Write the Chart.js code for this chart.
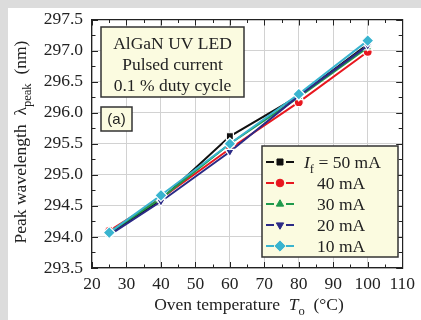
<!DOCTYPE html>
<html>
<head>
<meta charset="utf-8">
<script src="https://cdn.jsdelivr.net/npm/chart.js@4/dist/chart.umd.min.js"></script>
<style>
  html, body { margin: 0; padding: 0; background: #ffffff; overflow: hidden; }
  canvas { display: block; }
</style>
</head>
<body>
<canvas id="chart" width="421" height="320"></canvas>
<script>
const temperatures = [25, 40, 60, 80, 100];
const currents = ["50 mA", "40 mA", "30 mA", "20 mA", "10 mA"];
const peak50 = [294.05, 294.60, 295.62, 296.27, 297.10];
const peak40 = [294.10, 294.62, 295.42, 296.17, 296.98];
const peak30 = [294.07, 294.62, 295.50, 296.25, 297.05];
const peak20 = [294.03, 294.57, 295.37, 296.27, 297.08];
const peak10 = [294.07, 294.67, 295.50, 296.30, 297.16];
const yTicks = [293.5, 294.0, 294.5, 295.0, 295.5, 296.0, 296.5, 297.0, 297.5];
const xTicks = [20, 30, 40, 50, 60, 70, 80, 90, 100, 110];

const SERIF = '"Liberation Serif", "DejaVu Serif", serif';
const seriesStyle = [
    { values: peak50, color: "#111111", point: "rect", rot: 0, r: 5, order: 4 },
    { values: peak40, color: "#e8171f", point: "circle", rot: 0, r: 4.5, order: 3 },
    { values: peak30, color: "#1f9a4c", point: "triangle", rot: 0, r: 5, order: 2 },
    { values: peak20, color: "#2b2a86", point: "triangle", rot: 180, r: 5, order: 1 },
    { values: peak10, color: "#39b4cf", point: "rectRot", rot: 0, r: 6, order: 0 },
];

// text with italic / subscript runs
function drawRuns(ctx, runs, x, y, size, align) {
    const widths = runs.map(r => {
        ctx.font = (r.italic ? "italic " : "") + (r.sub ? size * 0.72 : size) + "px " + SERIF;
        return ctx.measureText(r.t).width;
    });
    const total = widths.reduce((a, b) => a + b, 0);
    let cx = align === "center" ? x - total / 2 : x;
    runs.forEach((r, i) => {
        ctx.font = (r.italic ? "italic " : "") + (r.sub ? size * 0.72 : size) + "px " + SERIF;
        ctx.fillText(r.t, cx, y + (r.sub ? size * 0.3 : 0));
        cx += widths[i];
    });
}

const decorPlugin = {
    id: "decor",
    beforeDraw(chart) {
        const { ctx, width, height } = chart;
        ctx.save();
        ctx.fillStyle = "#dcdcdc";
        ctx.fillRect(0, 0, width, height);
        ctx.fillStyle = "#ffffff";
        ctx.fillRect(8, 8, width - 8, height - 8);
        ctx.restore();
    },
    beforeDatasetsDraw(chart) {
        const { ctx, chartArea: a, scales } = chart;
        ctx.save();
        ctx.strokeStyle = "#222";
        ctx.lineWidth = 1;
        // inward ticks on all four sides
        for (let v = 20; v <= 110; v += 5) {
            const x = Math.round(scales.x.getPixelForValue(v)) + 0.5;
            const len = v % 10 === 0 ? 6 : 3.5;
            ctx.beginPath();
            ctx.moveTo(x, a.bottom); ctx.lineTo(x, a.bottom - len);
            ctx.moveTo(x, a.top); ctx.lineTo(x, a.top + len);
            ctx.stroke();
        }
        for (let v = 293.5; v <= 297.5001; v += 0.25) {
            const y = Math.round(scales.y.getPixelForValue(v)) + 0.5;
            const len = Math.abs(v * 2 - Math.round(v * 2)) < 0.01 ? 6 : 3.5;
            ctx.beginPath();
            ctx.moveTo(a.left, y); ctx.lineTo(a.left + len, y);
            ctx.moveTo(a.right, y); ctx.lineTo(a.right - len, y);
            ctx.stroke();
        }
        ctx.restore();
    },
    afterDraw(chart) {
        const { ctx } = chart;
        ctx.save();
        ctx.fillStyle = "#222";
        ctx.textBaseline = "alphabetic";

        // axis titles
        drawRuns(ctx, [
            { t: "Oven temperature  " },
            { t: "T", italic: true },
            { t: "o", sub: true },
            { t: "  (°C)" },
        ], 249, 310, 17.5, "center");

        ctx.save();
        ctx.translate(26, 142);
        ctx.rotate(-Math.PI / 2);
        drawRuns(ctx, [
            { t: "Peak wavelength  " },
            { t: "λ" },
            { t: "peak", sub: true },
            { t: "  (nm)" },
        ], 0, 0, 17.5, "center");
        ctx.restore();

        // conditions box
        ctx.fillStyle = "#fbfbe0";
        ctx.strokeStyle = "#333";
        ctx.lineWidth = 1.5;
        ctx.fillRect(101, 27, 143, 70);
        ctx.strokeRect(101, 27, 143, 70);
        ctx.fillStyle = "#222";
        ctx.textAlign = "center";
        ctx.font = "17.5px " + SERIF;
        ctx.fillText("AlGaN UV LED", 172.5, 49);
        ctx.fillText("Pulsed current", 172.5, 70);
        ctx.fillText("0.1 % duty cycle", 172.5, 91);

        // panel label
        ctx.fillStyle = "#fbfbe0";
        ctx.fillRect(101, 107, 31, 24);
        ctx.strokeRect(101, 107, 31, 24);
        ctx.fillStyle = "#222";
        ctx.font = '15px "Liberation Sans", Arial, sans-serif';
        ctx.fillText("(a)", 116.5, 124);

        // legend
        ctx.fillStyle = "#fbfbe0";
        ctx.fillRect(262, 146, 136, 111);
        ctx.strokeRect(262, 146, 136, 111);
        ctx.textAlign = "left";
        const rows = [162, 183, 204, 225, 246];
        seriesStyle.forEach((s, i) => {
            const y = rows[i];
            ctx.strokeStyle = s.color;
            ctx.lineWidth = 2;
            ctx.beginPath();
            ctx.moveTo(266, y); ctx.lineTo(274, y);
            ctx.moveTo(286, y); ctx.lineTo(294, y);
            ctx.stroke();
            ctx.fillStyle = s.color;
            ctx.strokeStyle = s.color;
            ctx.lineWidth = 1;
            Chart.helpers.drawPoint(ctx, { pointStyle: s.point, rotation: s.rot, radius: s.r * 0.85, borderWidth: 1 }, 280, y);
            ctx.fillStyle = "#222";
            if (i === 0) {
                drawRuns(ctx, [
                    { t: "I", italic: true },
                    { t: "f", sub: true },
                    { t: " = " + currents[i] },
                ], 304, y + 6, 17.5, "left");
            } else {
                ctx.font = "17.5px " + SERIF;
                ctx.fillText(currents[i], 317, y + 6);
            }
        });
        ctx.restore();
    }
};

const datasets = seriesStyle.map((s, i) => ({
    label: currents[i],
    data: s.values.map((v, j) => ({ x: temperatures[j], y: v })),
    borderColor: s.color,
    backgroundColor: s.color,
    borderWidth: 2,
    pointStyle: s.point,
    pointRotation: s.rot,
    pointRadius: s.r,
    pointBorderColor: "#ffffff",
    pointBorderWidth: 1.2,
    pointBackgroundColor: s.color,
    order: s.order,
    tension: 0,
}));

new Chart(document.getElementById("chart"), {
    type: "line",
    data: { datasets },
    options: {
        responsive: false,
        animation: false,
        layout: { padding: { top: 17, right: 18, left: 0, bottom: 0 } },
        plugins: { legend: { display: false }, tooltip: { enabled: false } },
        scales: {
            x: {
                type: "linear",
                min: 20, max: 110,
                afterBuildTicks: s => { s.ticks = xTicks.map(v => ({ value: v })); },
                afterFit: s => { s.height = 52; },
                grid: { color: "#d2d2d2", lineWidth: 1, drawTicks: false },
                border: { color: "#222", width: 1.2 },
                ticks: { padding: 6, color: "#222", font: { family: SERIF, size: 17.5 }, maxRotation: 0 },
            },
            y: {
                min: 293.5, max: 297.5,
                afterBuildTicks: s => { s.ticks = yTicks.map(v => ({ value: v })); },
                afterFit: s => { s.width = 92; },
                grid: { color: "#d2d2d2", lineWidth: 1, drawTicks: false },
                border: { color: "#222", width: 1.2 },
                ticks: { padding: 9, color: "#222", font: { family: SERIF, size: 17.5 }, callback: v => v.toFixed(1) },
            },
            x2: {
                type: "linear", position: "top", min: 20, max: 110,
                display: true, afterFit: s => { s.height = 0; },
                grid: { display: false, drawTicks: false },
                border: { color: "#222", width: 1.2 },
                ticks: { display: false },
            },
            y2: {
                type: "linear", position: "right", min: 293.5, max: 297.5,
                display: true, afterFit: s => { s.width = 0; },
                grid: { display: false, drawTicks: false },
                border: { color: "#222", width: 1.2 },
                ticks: { display: false },
            },
        },
    },
    plugins: [decorPlugin],
});
</script>
</body>
</html>
